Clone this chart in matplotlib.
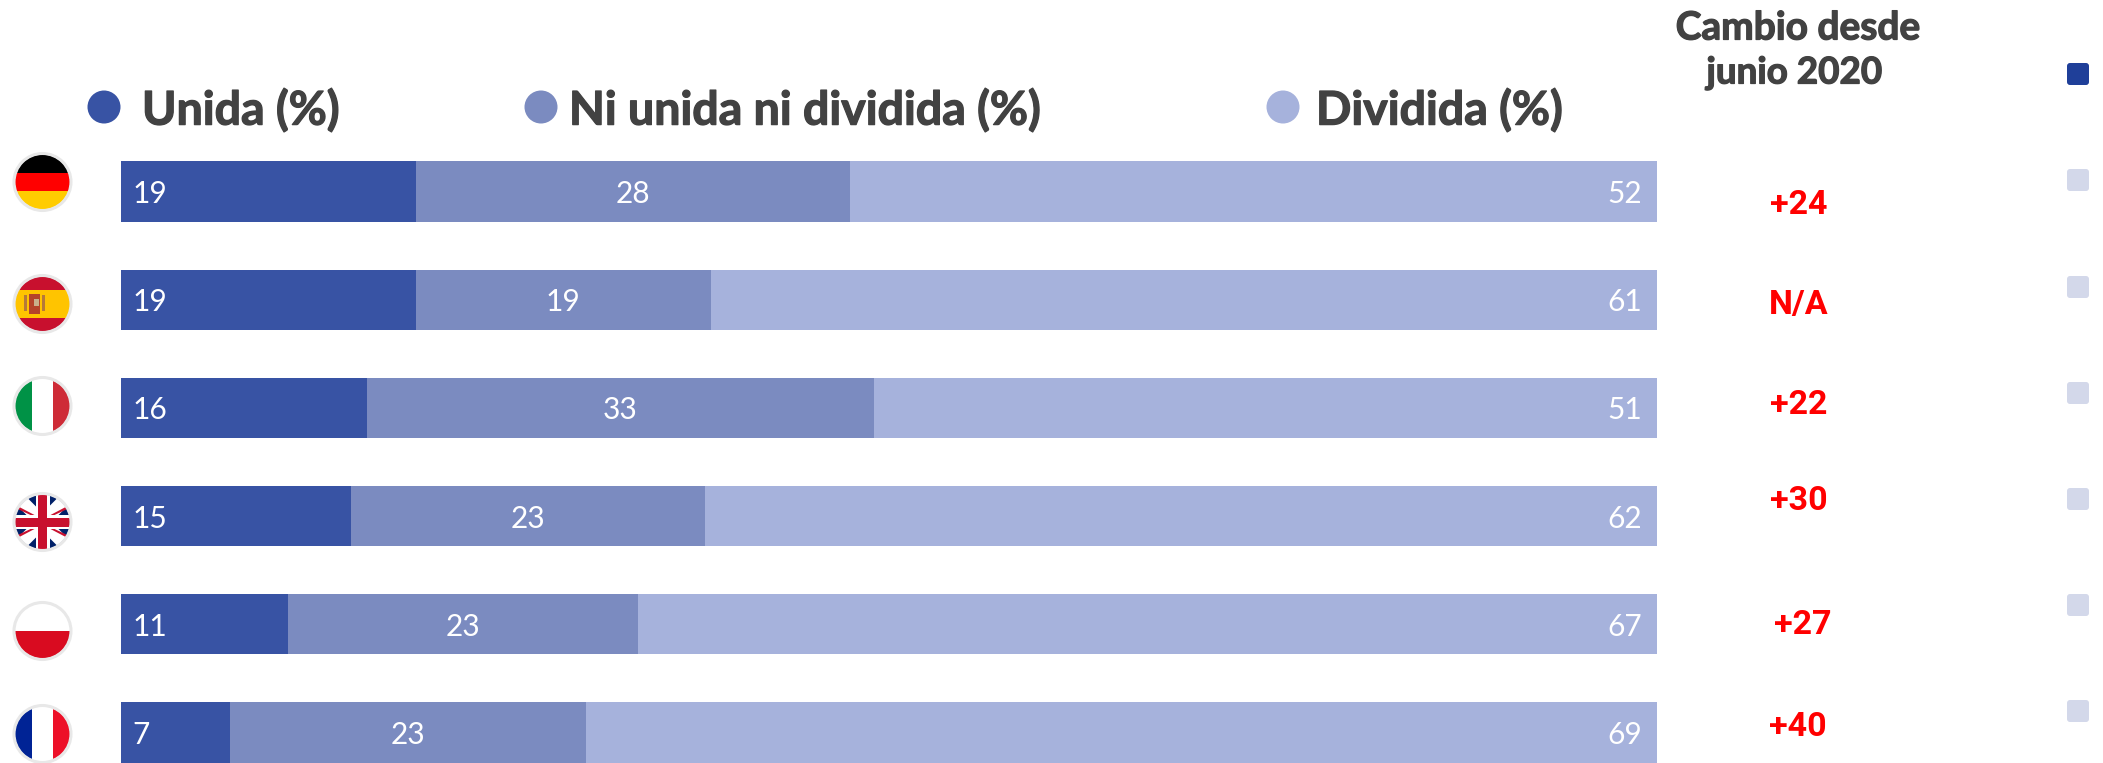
import matplotlib
matplotlib.use("Agg")
import matplotlib.pyplot as plt
import matplotlib.patheffects as pe
from matplotlib.patches import Circle, Rectangle, Polygon, FancyBboxPatch

W, H = 2103, 763
countries = ["Alemania", "España", "Italia", "Reino Unido", "Polonia", "Francia"]
unida = [19, 19, 16, 15, 11, 7]
ni_ni = [28, 19, 33, 23, 23, 23]
dividida = [52, 61, 51, 62, 67, 69]
cambio = ["+24", "N/A", "+22", "+30", "+27", "+40"]
legend_labels = ["Unida (%)", "Ni unida ni dividida (%)", "Dividida (%)"]
header_lines = ["Cambio desde", "junio 2020"]

COLORS = ["#3853a4", "#7b8bc0", "#a6b2dc"]
TEXT = "#424242"
HEAD_FONT = ["Lato", "DejaVu Sans"]
THICK = [pe.withStroke(linewidth=0.9, foreground=TEXT)]

fig = plt.figure(figsize=(W / 100, H / 100), dpi=100, facecolor="white")

# Bar axes: the plot area spans x 121..1657 px, rows are 108 px apart
row_h = 108.2
top = 191.5 - row_h / 2
bot = top + 6 * row_h
ax = fig.add_axes([121 / W, 1 - bot / H, (1657 - 121) / W, (bot - top) / H])
ax.set_xlim(0, 100)
ax.set_ylim(5.5, -0.5)
ax.axis("off")

ypos = range(len(countries))
for y, a, b, c in zip(ypos, unida, ni_ni, dividida):
    total = a + b + c
    pa, pb, pc = [v * 100 / total for v in (a, b, c)]
    ax.barh(y, pa, 0.555, left=0, color=COLORS[0], linewidth=0)
    ax.barh(y, pb, 0.555, left=pa, color=COLORS[1], linewidth=0)
    ax.barh(y, pc, 0.555, left=pa + pb, color=COLORS[2], linewidth=0)
    tk = dict(color="white", fontsize=21.5, family=["Lato", "DejaVu Sans"],
              weight="normal", va="center_baseline")
    ax.text(0.75, y, str(a), ha="left", **tk)
    ax.text(pa + pb / 2, y, str(b), ha="center", **tk)
    ax.text(99.05, y, str(c), ha="right", **tk)

# Overlay in pixel coordinates for legend, flags, side column
ov = fig.add_axes([0, 0, 1, 1], facecolor="none")
ov.set_xlim(0, W)
ov.set_ylim(H, 0)
ov.axis("off")

for cx, tx, col, lab in zip([104, 541, 1283], [142, 569, 1316], COLORS, legend_labels):
    ov.add_patch(Circle((cx, 107), 16.5, color=col, lw=0))
    ov.text(tx, 106, lab, fontsize=33.5, weight="bold", family=HEAD_FONT,
            color=TEXT, va="center_baseline", ha="left", path_effects=THICK)

ov.text(1798, 25, header_lines[0], fontsize=28, weight="bold", family=HEAD_FONT,
        color=TEXT, ha="center", va="center_baseline", path_effects=THICK)
ov.text(1794, 70, header_lines[1], fontsize=26.5, weight="bold", family=HEAD_FONT,
        color=TEXT, ha="center", va="center_baseline", path_effects=THICK)

cambio_xy = [(1799, 201), (1799, 302), (1799, 401), (1799, 498), (1803, 622), (1798, 723)]
for (x, y), s in zip(cambio_xy, cambio):
    ov.text(x, y, s, color="#ff0000", fontsize=24.5, weight="bold", family=["Roboto", "DejaVu Sans"],
            ha="center", va="center_baseline")

for i, y in enumerate([74, 180, 287, 393, 499, 605, 711]):
    col = "#1f3f99" if i == 0 else "#d3d8ea"
    ov.add_patch(FancyBboxPatch((2067 + 3, y - 11 + 3), 16, 16,
                                boxstyle="round,pad=3,rounding_size=3", fc=col, lw=0))


def flag(cy, draw, cx=42.5, r=27.5):
    clip = Circle((cx, cy), r, transform=ov.transData, fc="none", lw=0)
    ov.add_patch(clip)
    for art in draw(cx, cy, r):
        ov.add_patch(art)
        art.set_clip_path(clip)
    ov.add_patch(Circle((cx, cy), r + 1, fc="none", ec="#e8e8e8", lw=2.2, zorder=5))


def hbands(spec):
    def d(cx, cy, r):
        out, y = [], cy - r
        for frac, col in spec:
            h = 2 * r * frac
            out.append(Rectangle((cx - r, y), 2 * r, h, fc=col, lw=0))
            y += h
        return out
    return d


def vbands(spec):
    def d(cx, cy, r):
        out, x = [], cx - r
        for frac, col in spec:
            w = 2 * r * frac
            out.append(Rectangle((x, cy - r), w, 2 * r, fc=col, lw=0))
            x += w
        return out
    return d


def spain(cx, cy, r):
    out = hbands([(0.25, "#c8102e"), (0.5, "#ffc400"), (0.25, "#c8102e")])(cx, cy, r)
    out.append(Rectangle((cx - 19, cy - 9), 3, 16, fc="#b5793a", lw=0))
    out.append(Rectangle((cx - 1, cy - 9), 3, 16, fc="#b5793a", lw=0))
    out.append(Rectangle((cx - 14, cy - 10), 11, 20, fc="#b5432a", lw=0))
    out.append(Rectangle((cx - 9, cy - 5), 5, 7, fc="#c9b08a", lw=0))
    return out


def uk(cx, cy, r):
    navy, red = "#012169", "#c8102e"
    out = [Rectangle((cx - r, cy - r), 2 * r, 2 * r, fc=navy, lw=0)]
    h = 9
    out.append(Polygon([(cx - r - h, cy - r), (cx - r + h, cy - r), (cx + r + h, cy + r), (cx + r - h, cy + r)],
                       fc="white", lw=0))
    out.append(Polygon([(cx + r - h, cy - r), (cx + r + h, cy - r), (cx - r + h, cy + r), (cx - r - h, cy + r)],
                       fc="white", lw=0))
    for sx in (1, -1):
        out.append(Polygon([(cx - sx * 8, cy - 7), (cx - sx * 27, cy - 17), (cx - sx * 27, cy - 14), (cx - sx * 12, cy - 7)],
                           fc=red, lw=0))
        out.append(Polygon([(cx - sx * 8, cy + 7), (cx - sx * 27, cy + 17), (cx - sx * 27, cy + 14), (cx - sx * 12, cy + 7)],
                           fc=red, lw=0))
    out.append(Rectangle((cx - r, cy - 7), 2 * r, 14, fc="white", lw=0))
    out.append(Rectangle((cx - 7, cy - r), 14, 2 * r, fc="white", lw=0))
    out.append(Rectangle((cx - r, cy - 4.5), 2 * r, 9, fc=red, lw=0))
    out.append(Rectangle((cx - 4.5, cy - r), 9, 2 * r, fc=red, lw=0))
    return out


flag(182, hbands([(1 / 3, "#000000"), (1 / 3, "#ff0000"), (1 / 3, "#ffcc00")]))
flag(304, spain)
flag(406, vbands([(0.31, "#009246"), (0.38, "#ffffff"), (0.31, "#ce2b37")]))
flag(522, uk)
flag(631, hbands([(0.5, "#ffffff"), (0.5, "#d90b20")]))
flag(734, vbands([(0.31, "#002395"), (0.38, "#ffffff"), (0.31, "#ed1028")]))

fig.savefig("out.png", dpi=100, facecolor="white")
